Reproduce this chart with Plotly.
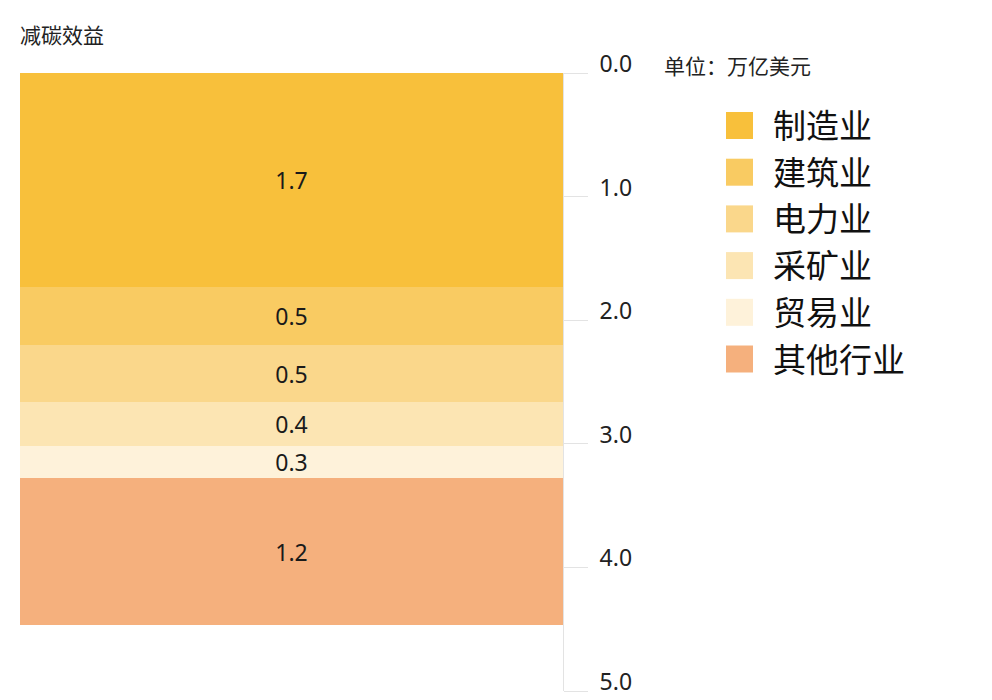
import plotly.graph_objects as go

# ---- data ----
categories = ["制造业", "建筑业", "电力业", "采矿业", "贸易业", "其他行业"]
values = [1.73, 0.47, 0.46, 0.36, 0.26, 1.19]
colors = ["#F8C03B", "#F9CB62", "#FAD78B", "#FCE5B3", "#FEF2DA", "#F5B07D"]
bar_category = ["减碳效益"]
tick_vals = [0, 1, 2, 3, 4, 5]
tick_text = ["0.0", "1.0", "2.0", "3.0", "4.0", "5.0"]
title_text = "减碳效益"
unit_text = "单位：万亿美元"

W, H = 992, 700
ML, MR, MT, MB = 20, 429, 73, 9
PW, PH = W - ML - MR, H - MT - MB

FONT = "Noto Sans, Noto Sans CJK SC, sans-serif"


def px(x):
    return (x - ML) / PW


def py(y):
    return (H - MB - y) / PH


fig = go.Figure()
for name, v, c in zip(categories, values, colors):
    fig.add_trace(go.Bar(
        x=bar_category, y=[v], name=name,
        marker=dict(color=c, line=dict(width=0)),
        text=[f"{v:.1f}"], textposition="inside", insidetextanchor="middle",
        constraintext="none", textangle=0,
        textfont=dict(size=23, color="#1a1a1a", family=FONT),
        showlegend=False, width=1,
    ))

shapes = []
annotations = []
# custom legend
for i, (name, c) in enumerate(zip(categories, colors)):
    cy = 125.5 + i * 46.7
    shapes.append(dict(type="rect", xref="paper", yref="paper",
                       x0=px(726), x1=px(753), y0=py(cy + 13.5), y1=py(cy - 13.5),
                       fillcolor=c, line=dict(width=0)))
    annotations.append(dict(text=name, xref="paper", yref="paper",
                            x=px(771), y=py(cy), xanchor="left", yanchor="middle",
                            showarrow=False, font=dict(size=33, color="#111", family=FONT)))

annotations.append(dict(text=title_text, xref="paper", yref="paper", x=px(18), y=py(35),
                        xanchor="left", yanchor="middle", showarrow=False,
                        font=dict(size=21, color="#222", family=FONT)))
annotations.append(dict(text=unit_text, xref="paper", yref="paper", x=px(662), y=py(66),
                        xanchor="left", yanchor="middle", showarrow=False,
                        font=dict(size=21, color="#222", family=FONT)))

fig.update_layout(
    width=W, height=H,
    margin=dict(l=ML, r=MR, t=MT, b=MB, pad=0, autoexpand=False),
    plot_bgcolor="white", paper_bgcolor="white",
    barmode="stack", bargap=0,
    font=dict(family=FONT),
    shapes=shapes, annotations=annotations,
    xaxis=dict(visible=False, range=[-0.5, 0.5], automargin=False),
    yaxis=dict(range=[5, 0], side="right", showgrid=False, zeroline=False,
               automargin=False,
               showline=True, linecolor="#e3e3e3", linewidth=1,
               ticks="outside", ticklen=24, tickcolor="#e3e3e3", tickwidth=1,
               tickvals=tick_vals, ticktext=tick_text,
               tickfont=dict(size=23, color="#222", family=FONT),
               ticklabelstandoff=7, ticklabelshift=9),
)

fig.write_html("out.html")
